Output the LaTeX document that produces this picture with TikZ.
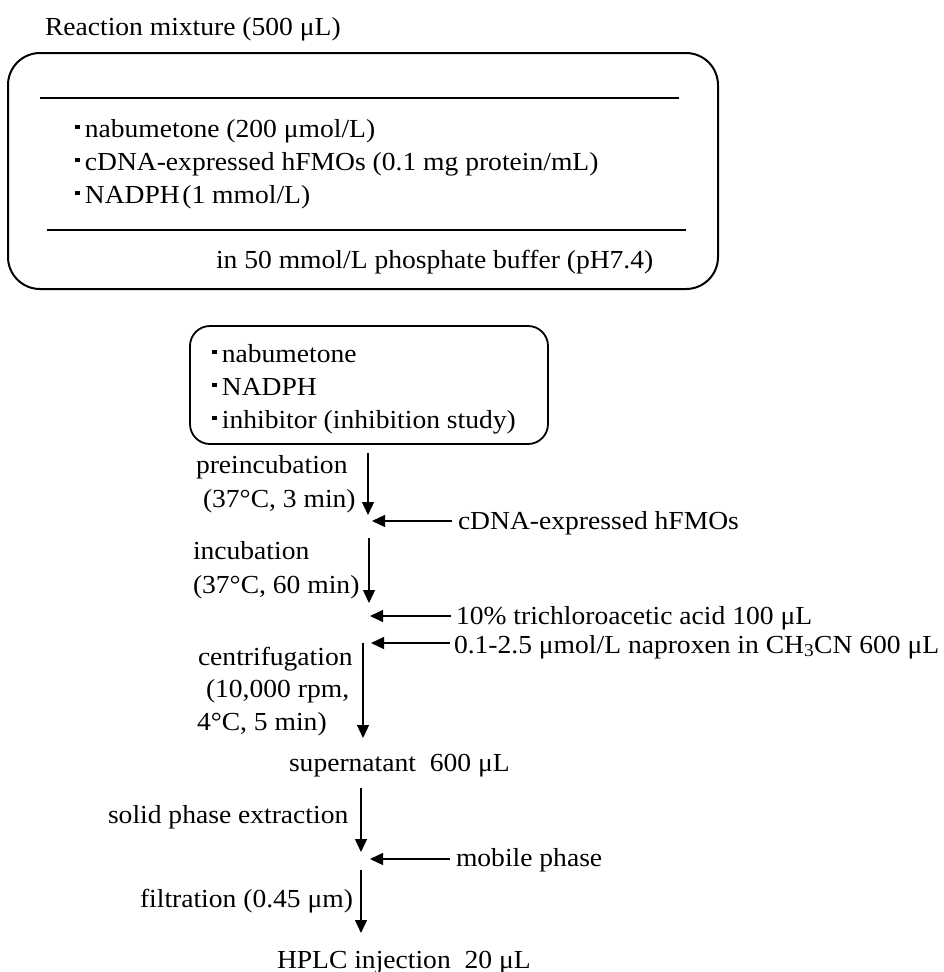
\documentclass[tikz,border=0pt]{standalone}
\usepackage{fontspec}
\setmainfont{Liberation Serif}[FakeStretch=1.06]
\usetikzlibrary{arrows.meta}

% small raised square used as list marker
\newcommand\sqmark{\raisebox{0.3em}{\rule{0.18em}{0.18em}}\kern0.2em}

\begin{document}
\begin{tikzpicture}[x=1pt,y=-1pt,
  every node/.style={inner sep=0pt,outer sep=0pt,font=\fontsize{26}{31}\selectfont},
  txt/.style={anchor=base west},
  mixbox/.style={draw,line width=2pt,rounded corners=32pt,minimum width=710pt,minimum height=236pt},
  prepbox/.style={draw,line width=1.8pt,rounded corners=20pt,minimum width=358pt,minimum height=118pt},
  rule/.style={line width=1.2pt},
  flow/.style={line width=1.3pt,-{Triangle[length=13pt,width=12pt]}}]
\useasboundingbox (0,0) rectangle (944,972);

% reaction mixture panel
\node[txt] (title) at (45,35) {Reaction mixture (500 μL)};
\node[mixbox] (mix) at (363,171) {};
\coordinate (r1a) at (40,98);  \coordinate (r1b) at (679,98);
\coordinate (r2a) at (47,230); \coordinate (r2b) at (686,230);
\draw[rule] (r1a) -- (r1b);
\draw[rule] (r2a) -- (r2b);
\node[txt] (m1) at (75,137) {\sqmark nabumetone (200 μmol/L)};
\node[txt] (m2) at (75,170) {\sqmark cDNA-expressed hFMOs (0.1 mg protein/mL)};
\node[txt] (m3) at (75,203) {\sqmark NADPH\kern0.1em(1 mmol/L)};
\node[txt] (buf) at (216,268) {in 50 mmol/L phosphate buffer (pH7.4)};

% premix box
\node[prepbox] (prep) at (369,385) {};
\node[txt] (p1) at (212,362) {\sqmark nabumetone};
\node[txt] (p2) at (212,395) {\sqmark NADPH};
\node[txt] (p3) at (212,428) {\sqmark inhibitor (inhibition study)};

% step labels
\node[txt] (l1a) at (196,473) {preincubation};
\node[txt] (l1b) at (203,507) {(37°C, 3 min)};
\node[txt] (l2a) at (193,559) {incubation};
\node[txt] (l2b) at (193,593) {(37°C, 60 min)};
\node[txt] (l3a) at (198,665) {centrifugation};
\node[txt] (l3b) at (206,697) {(10,000 rpm,};
\node[txt] (l3c) at (197,730) {4°C, 5 min)};
\node[txt] (sup) at (289,771) {supernatant\ \ 600 μL};
\node[txt] (l4) at (108,823) {solid phase extraction};
\node[txt] (l5) at (140,907) {filtration (0.45 μm)};
\node[txt] (hplc) at (277,968) {HPLC injection\ \ 20 μL};

% additions
\node[txt] (add1) at (458,529) {cDNA-expressed hFMOs};
\node[txt] (add2) at (456,624) {10\% trichloroacetic acid 100 μL};
\node[txt] (add3) at (454,653) {0.1-2.5 μmol/L naproxen in CH\textsubscript{3}CN 600 μL};
\node[txt] (add4) at (456,866) {mobile phase};

% main flow
\coordinate (v1a) at (368,453); \coordinate (v1b) at (368,515);
\coordinate (v2a) at (369,538); \coordinate (v2b) at (369,603);
\coordinate (v3a) at (363,643); \coordinate (v3b) at (363,738);
\coordinate (v4a) at (361,788); \coordinate (v4b) at (361,852);
\coordinate (v5a) at (361,870); \coordinate (v5b) at (361,933);
\draw[flow] (v1a) -- (v1b);
\draw[flow] (v2a) -- (v2b);
\draw[flow] (v3a) -- (v3b);
\draw[flow] (v4a) -- (v4b);
\draw[flow] (v5a) -- (v5b);

% side inputs
\coordinate (h1a) at (452,521); \coordinate (h1b) at (372,521);
\coordinate (h2a) at (451,616); \coordinate (h2b) at (370,616);
\coordinate (h3a) at (450,643); \coordinate (h3b) at (371,643);
\coordinate (h4a) at (450,859); \coordinate (h4b) at (370,859);
\draw[flow] (h1a) -- (h1b);
\draw[flow] (h2a) -- (h2b);
\draw[flow] (h3a) -- (h3b);
\draw[flow] (h4a) -- (h4b);
\end{tikzpicture}
\end{document}
